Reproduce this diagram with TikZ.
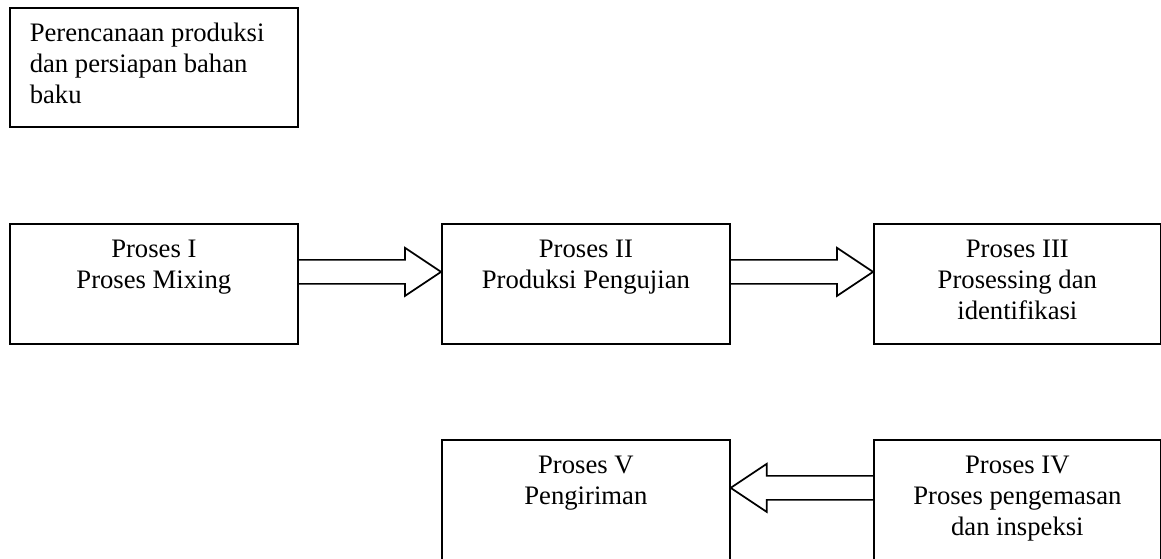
\documentclass[tikz,border=0pt]{standalone}
\usepackage{fontspec}
\setmainfont{Liberation Serif}
\usetikzlibrary{calc}
\begin{document}
\begin{tikzpicture}[x=0.75pt,y=-0.75pt,
  box/.style={draw,line width=1.3pt,rectangle,inner sep=0pt,anchor=north west,minimum width=216pt,minimum height=90pt},
  lbl/.style={inner sep=0pt,anchor=north,align=center,font=\fontsize{20}{23.25}\selectfont},
  arr/.style={draw,line width=1.3pt,line join=miter}]
\useasboundingbox (0,0) rectangle (1161,558);
\clip (0,0) rectangle (1161,558);
% boxes
\node[box,minimum height=89.6pt] (b0) at (9,7) {};
\node[box] (b1) at (9,223) {};
\node[box] (b2) at (441,223) {};
\node[box,minimum width=215.25pt] (b3) at (873,223) {};
\node[box,minimum height=97.5pt] (b5) at (441,439) {};
\node[box,minimum width=215.25pt,minimum height=97.5pt] (b4) at (873,439) {};
% texts
\node[lbl,anchor=north west,align=left] (t0) at ($(b0.north west)+(20.5,12.3)$) {\strut Perencanaan produksi\\dan persiapan bahan\\baku};
\node[lbl] (t1) at ($(b1.north)+(0,12.3)$) {\strut Proses I\\Proses Mixing};
\node[lbl] (t2) at ($(b2.north)+(0,12.3)$) {\strut Proses II\\Produksi Pengujian};
\node[lbl] (t3) at ($(b3.north)+(0,12.3)$) {\strut Proses III\\Prosessing dan\\identifikasi};
\node[lbl] (t5) at ($(b5.north)+(0,12.3)$) {\strut Proses V\\Pengiriman};
\node[lbl] (t4) at ($(b4.north)+(0,12.3)$) {\strut Proses IV\\Proses pengemasan\\dan inspeksi};
% block arrows
\draw[arr] ($(b1.east)+(0,-24)$) -- ($(b2.west)+(-36,-24)$) -- ($(b2.west)+(-36,-36)$) -- ($(b2.west)+(0,-12)$) -- ($(b2.west)+(-36,12)$) -- ($(b2.west)+(-36,0)$) -- (b1.east);
\draw[arr] ($(b2.east)+(0,-24)$) -- ($(b3.west)+(-36,-24)$) -- ($(b3.west)+(-36,-36)$) -- ($(b3.west)+(0,-12)$) -- ($(b3.west)+(-36,12)$) -- ($(b3.west)+(-36,0)$) -- (b2.east);
\draw[arr] ($(b4.west)+(0,-29)$) -- ($(b5.east)+(36,-29)$) -- ($(b5.east)+(36,-41)$) -- ($(b5.east)+(0,-17)$) -- ($(b5.east)+(36,7)$) -- ($(b5.east)+(36,-5)$) -- ($(b4.west)+(0,-5)$);
\end{tikzpicture}
\end{document}
